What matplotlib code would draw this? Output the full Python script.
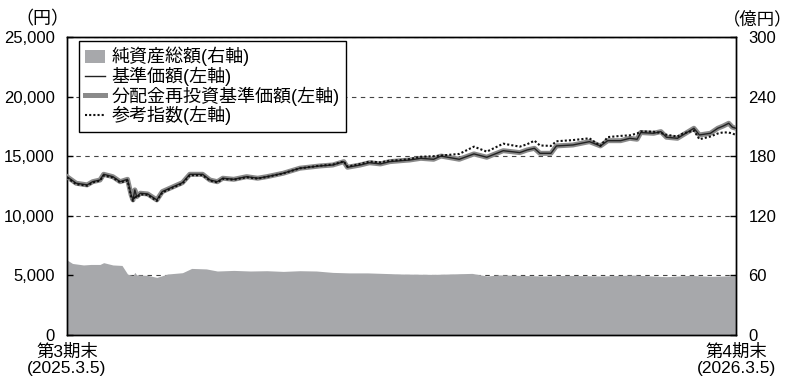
import matplotlib
matplotlib.use('Agg')
import matplotlib.pyplot as plt
from matplotlib.patches import Patch
from matplotlib.lines import Line2D
from matplotlib.ticker import FuncFormatter

plt.rcParams['font.family'] = ['Liberation Sans', 'Noto Sans CJK JP']

# 期間内の経過日数（第3期末=0、第4期末=365）
days = [0, 5, 11, 14, 18, 20, 25, 29, 33, 35, 36, 37, 38, 40, 44, 49, 52, 58, 63, 67,
        74, 78, 82, 85, 91, 98, 104, 109, 118, 127, 138, 145, 151, 153, 160, 165, 171, 176, 182, 187,
        193, 200, 204, 214, 222, 229, 238, 247, 251, 255, 258, 264, 267, 276, 285, 291, 295, 302, 307, 311,
        313, 320, 324, 327, 333, 336, 342, 345, 351, 355, 358, 361, 363, 365]

# 基準価額（円）
nav = [13280, 12730, 12590, 12860, 13000, 13480, 13280, 12860, 13060, 11750, 11330, 12170, 11600, 11890, 11830, 11330, 12030, 12440, 12780, 13480,
       13480, 13000, 12860, 13150, 13060, 13280, 13150, 13280, 13570, 13990, 14180, 14260, 14540, 14070, 14260, 14450, 14350, 14540, 14620, 14680,
       14820, 14740, 15010, 14740, 15190, 14910, 15460, 15300, 15520, 15660, 15240, 15240, 15860, 15940, 16220, 15860, 16300, 16300, 16500, 16420,
       16980, 16920, 17060, 16590, 16500, 16780, 17340, 16780, 16920, 17340, 17530, 17760, 17430, 17340]

# 分配金再投資基準価額（円）
nav_reinvest = list(nav)

# 参考指数（円）
index = [13200, 12650, 12520, 12800, 12950, 13380, 13200, 12800, 12950, 11600, 11250, 11700, 11500, 11800, 11750, 11250, 11950, 12380, 12700, 13400,
         13400, 12950, 12800, 13100, 13020, 13230, 13120, 13250, 13560, 13980, 14200, 14300, 14560, 14120, 14350, 14550, 14480, 14620, 14680, 14760,
         14950, 15000, 15050, 15190, 15800, 15380, 16050, 15800, 16000, 16300, 15900, 15860, 16250, 16350, 16500, 15860, 16600, 16700, 16750, 16900,
         17080, 17050, 16950, 16800, 16650, 16900, 17150, 16420, 16650, 16900, 17000, 16980, 16900, 16780]

# 純資産総額（億円）
asset_days = [0, 3, 9, 13, 18, 20, 25, 30, 33, 36, 37, 38, 44, 49, 55, 63, 68, 76, 82, 91,
              100, 109, 118, 127, 136, 145, 154, 164, 182, 200, 221, 229, 236, 260, 273, 291, 309, 327, 340, 351, 365]
assets = [75.5, 72, 70.5, 71, 71, 72.8, 70.5, 70, 61.4, 59.7, 63, 60.5, 60, 58, 61.4, 62.7, 67, 66.5, 64.4, 65,
          64.4, 64.7, 64, 64.7, 64.4, 63, 62.5, 62.5, 61.4, 61, 62, 59.4, 60.5, 59.4, 60, 59.4, 60.3, 58.7, 60, 59, 59.7]

xtick_labels = ['第3期末\n(2025.3.5)', '第4期末\n(2026.3.5)']

fig = plt.figure(figsize=(7.93, 3.78), dpi=100)
ax2 = fig.add_axes([0.0845, 0.1138, 0.8437, 0.7884])
ax = ax2.twinx()
ax.set_zorder(ax2.get_zorder() + 1)
ax.patch.set_visible(False)

# 純資産総額（右軸）
ax2.fill_between(asset_days, assets, 0, color='#a7a8ab', lw=0, zorder=1)
ax2.set_ylim(0, 300)
ax2.set_yticks([0, 60, 120, 180, 240, 300])
ax2.yaxis.tick_right()
ax2.set_axisbelow(True)
ax2.grid(axis='y', color='#444444', lw=0.8, ls=(0, (4, 4)))
ax2.tick_params(axis='y', length=0, pad=9, labelsize=12)
ax2.tick_params(axis='x', length=0, pad=6, labelsize=12.5)
ax2.set_xlim(0, 365)
ax2.set_xticks([0, 365])
ax2.set_xticklabels(xtick_labels, linespacing=1.1)

# 基準価額など（左軸）
ax.plot(days, nav_reinvest, color='#8a8a8a', lw=3.6, solid_joinstyle='round', zorder=3)
ax.plot(days, nav, color='#222222', lw=1.0, zorder=4)
ax.plot(days, index, color='#111111', lw=1.5, ls=(0, (1, 1.0)), zorder=5)
ax.set_ylim(0, 25000)
ax.set_yticks([0, 5000, 10000, 15000, 20000, 25000])
ax.yaxis.tick_left()
ax.yaxis.set_major_formatter(FuncFormatter(lambda v, p: f'{int(v):,}'))
ax.tick_params(axis='y', direction='in', length=4, width=1, pad=9, labelsize=12,
               left=True, right=True, labelleft=True, labelright=False)
ax.set_xlim(0, 365)

for a in (ax, ax2):
    for s in a.spines.values():
        s.set_linewidth(1.0)
        s.set_color('black')

handles = [Patch(facecolor='#a7a8ab', edgecolor='none'),
           Line2D([], [], color='#222222', lw=1.0),
           Line2D([], [], color='#8a8a8a', lw=3.6),
           Line2D([], [], color='#111111', lw=1.5, ls=(0, (1, 1.0)))]
labels = ['純資産総額(右軸)', '基準価額(左軸)', '分配金再投資基準価額(左軸)', '参考指数(左軸)']
leg = ax.legend(handles, labels, loc='upper left', bbox_to_anchor=(0.018, 0.988),
                borderaxespad=0, fontsize=13, frameon=True, fancybox=False,
                framealpha=1, edgecolor='black', handlelength=1.1, handleheight=0.75,
                handletextpad=0.35, labelspacing=0.02, borderpad=0.35)
leg.get_frame().set_linewidth(1.0)
leg.set_zorder(10)

cjk = ['Noto Sans CJK JP']
fig.text(0.054, 0.95, '（円）', fontsize=13, ha='center', va='center', family=cjk)
fig.text(0.999, 0.95, '（億円）', fontsize=12.5, ha='right', va='center', family=cjk)

fig.savefig('out.png', dpi=100)
